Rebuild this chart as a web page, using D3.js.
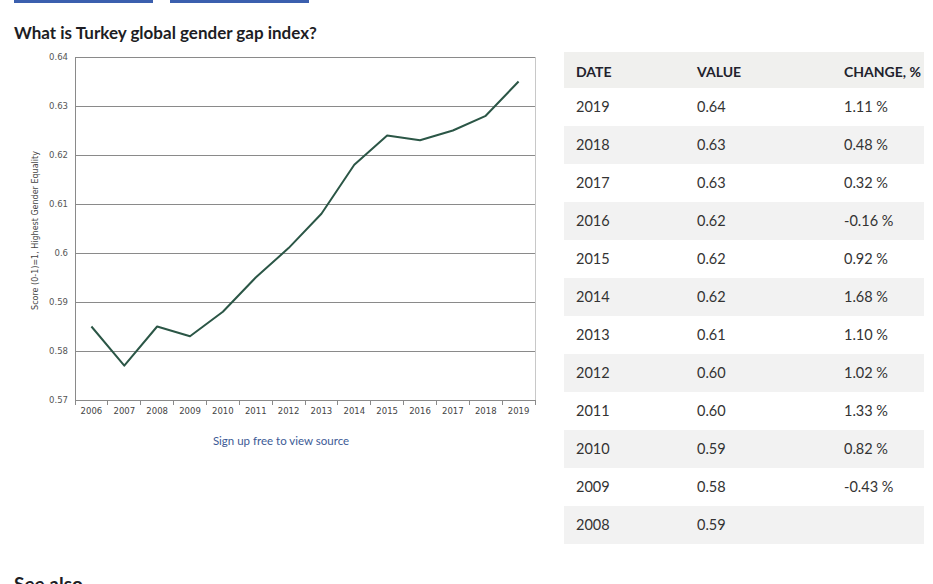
<!DOCTYPE html>
<html>
<head>
<meta charset="utf-8">
<script src="https://cdn.jsdelivr.net/npm/d3@7"></script>
<style>
  body { margin: 0; background: #fff; }
  svg { display: block; }
</style>
</head>
<body>
<svg id="svg-container"></svg>
<script>
/// data ///
const years = [2006, 2007, 2008, 2009, 2010, 2011, 2012, 2013, 2014, 2015, 2016, 2017, 2018, 2019];
const scores = [0.585, 0.577, 0.585, 0.583, 0.588, 0.595, 0.601, 0.608, 0.618, 0.624, 0.623, 0.625, 0.628, 0.635];
const yTicks = [0.57, 0.58, 0.59, 0.6, 0.61, 0.62, 0.63, 0.64];

// table rows (newest first)
const tableDates = ["2019", "2018", "2017", "2016", "2015", "2014", "2013", "2012", "2011", "2010", "2009", "2008"];
const tableValues = ["0.64", "0.63", "0.63", "0.62", "0.62", "0.62", "0.61", "0.60", "0.60", "0.59", "0.58", "0.59"];
const tableChanges = ["1.11 %", "0.48 %", "0.32 %", "-0.16 %", "0.92 %", "1.68 %", "1.10 %", "1.02 %", "1.33 %", "0.82 %", "-0.43 %", ""];
const tableHeaders = ["DATE", "VALUE", "CHANGE, %"];

/// constants ///
const width = 933, height = 584;
const plot = { left: 75, right: 535, top: 57, bottom: 400 };
const lineColour = "#2b5646";
const textFont = "Lato, 'Open Sans', sans-serif";
const axisFont = "'DejaVu Sans', Verdana, sans-serif";

const svg = d3.select("#svg-container").attr("width", width).attr("height", height);

// top buttons (cut off)
svg.append("rect").attr("x", 14).attr("y", 0).attr("width", 139).attr("height", 3).attr("fill", "#3b5fae");
svg.append("rect").attr("x", 170).attr("y", 0).attr("width", 139).attr("height", 3).attr("fill", "#3b5fae");

// title
svg.append("text")
  .attr("x", 14).attr("y", 39)
  .attr("font-family", textFont).attr("font-weight", "bold").attr("font-size", 17)
  .attr("fill", "#1d1d24")
  .text("What is Turkey global gender gap index?");

/// scales ///
const xScale = d3.scaleBand().domain(years).range([plot.left, plot.right]);
const yScale = d3.scaleLinear().domain([0.57, 0.64]).range([plot.bottom, plot.top]);

// gridlines
svg.append("g")
  .selectAll("line")
  .data(yTicks)
  .join("line")
    .attr("x1", plot.left).attr("x2", plot.right)
    .attr("y1", d => yScale(d)).attr("y2", d => yScale(d))
    .attr("stroke", "#8a8a8a").attr("stroke-width", 1)
    .attr("shape-rendering", "crispEdges");

// right border
svg.append("line")
  .attr("x1", plot.right).attr("x2", plot.right)
  .attr("y1", plot.top).attr("y2", plot.bottom)
  .attr("stroke", "#c8c8c8").attr("shape-rendering", "crispEdges");

// y axis
const yAxis = g => g
  .attr("transform", `translate(${plot.left},0)`)
  .call(d3.axisLeft(yScale).tickValues(yTicks).tickFormat(d => d3.format("")(+d.toFixed(2))).tickSize(0).tickPadding(7))
  .call(g => g.select(".domain").attr("stroke", "#8a8a8a"))
  .call(g => g.selectAll("text")
    .attr("font-family", axisFont).attr("font-size", 8.5).attr("fill", "#555"));
svg.append("g").call(yAxis);

// x axis
const xAxis = g => g
  .attr("transform", `translate(0,${plot.bottom})`)
  .call(d3.axisBottom(xScale).tickSize(0).tickPadding(8))
  .call(g => g.select(".domain").attr("stroke", "#8a8a8a"))
  .call(g => g.selectAll("text")
    .attr("font-family", axisFont).attr("font-size", 8.5).attr("fill", "#444"));
svg.append("g").call(xAxis);

// x tick marks at band boundaries
svg.append("g")
  .selectAll("line")
  .data(years.concat(["end"]))
  .join("line")
    .attr("x1", d => d === "end" ? plot.right : xScale(d))
    .attr("x2", d => d === "end" ? plot.right : xScale(d))
    .attr("y1", plot.bottom).attr("y2", plot.bottom + 5)
    .attr("stroke", "#8a8a8a").attr("shape-rendering", "crispEdges");

// y axis title
svg.append("text")
  .attr("transform", `translate(38,${(plot.top + plot.bottom) / 2 + 2}) rotate(-90)`)
  .attr("text-anchor", "middle")
  .attr("font-family", axisFont).attr("font-size", 8).attr("fill", "#444")
  .text("Score (0-1)=1, Highest Gender Equality");

// line
const line = d3.line()
  .x((d, i) => xScale(years[i]) + xScale.bandwidth() / 2)
  .y(d => yScale(d));
svg.append("path")
  .datum(scores)
  .attr("d", line)
  .attr("fill", "none")
  .attr("stroke", lineColour)
  .attr("stroke-width", 2)
  .attr("stroke-linejoin", "round");

// source link
svg.append("text")
  .attr("x", 281).attr("y", 445)
  .attr("text-anchor", "middle")
  .attr("font-family", textFont).attr("font-size", 11.5).attr("fill", "#3d5a96")
  .text("Sign up free to view source");

/// table ///
const table = { left: 564, right: 924, top: 52, headerH: 36, rowH: 38 };
const colX = [576, 697, 844];
const tableG = svg.append("g");

tableG.append("rect")
  .attr("x", table.left).attr("y", table.top)
  .attr("width", table.right - table.left).attr("height", table.headerH)
  .attr("fill", "#f0f0ee");
tableG.selectAll(".hdr")
  .data(tableHeaders)
  .join("text")
    .attr("class", "hdr")
    .attr("x", (d, i) => colX[i]).attr("y", table.top + 25)
    .attr("font-family", textFont).attr("font-weight", "bold").attr("font-size", 14)
    .attr("fill", "#22222c")
    .text(d => d);

const rows = tableG.selectAll(".row")
  .data(tableDates.map((d, i) => ({ date: d, value: tableValues[i], change: tableChanges[i], i })))
  .join("g")
    .attr("class", "row")
    .attr("transform", d => `translate(0,${table.top + table.headerH + d.i * table.rowH})`);
rows.append("rect")
  .attr("x", table.left).attr("width", table.right - table.left).attr("height", table.rowH)
  .attr("fill", d => d.i % 2 === 1 ? "#f2f2f2" : "#fff");
rows.selectAll("text")
  .data(d => [d.date, d.value, d.change])
  .join("text")
    .attr("x", (d, i) => colX[i]).attr("y", 24)
    .attr("font-family", textFont).attr("font-size", 14.5).attr("fill", "#333")
    .text(d => d);

// see also (cut off at bottom)
svg.append("text")
  .attr("x", 14).attr("y", 591)
  .attr("font-family", textFont).attr("font-weight", "bold").attr("font-size", 19)
  .attr("fill", "#1d1d24")
  .text("See also");
</script>
</body>
</html>
